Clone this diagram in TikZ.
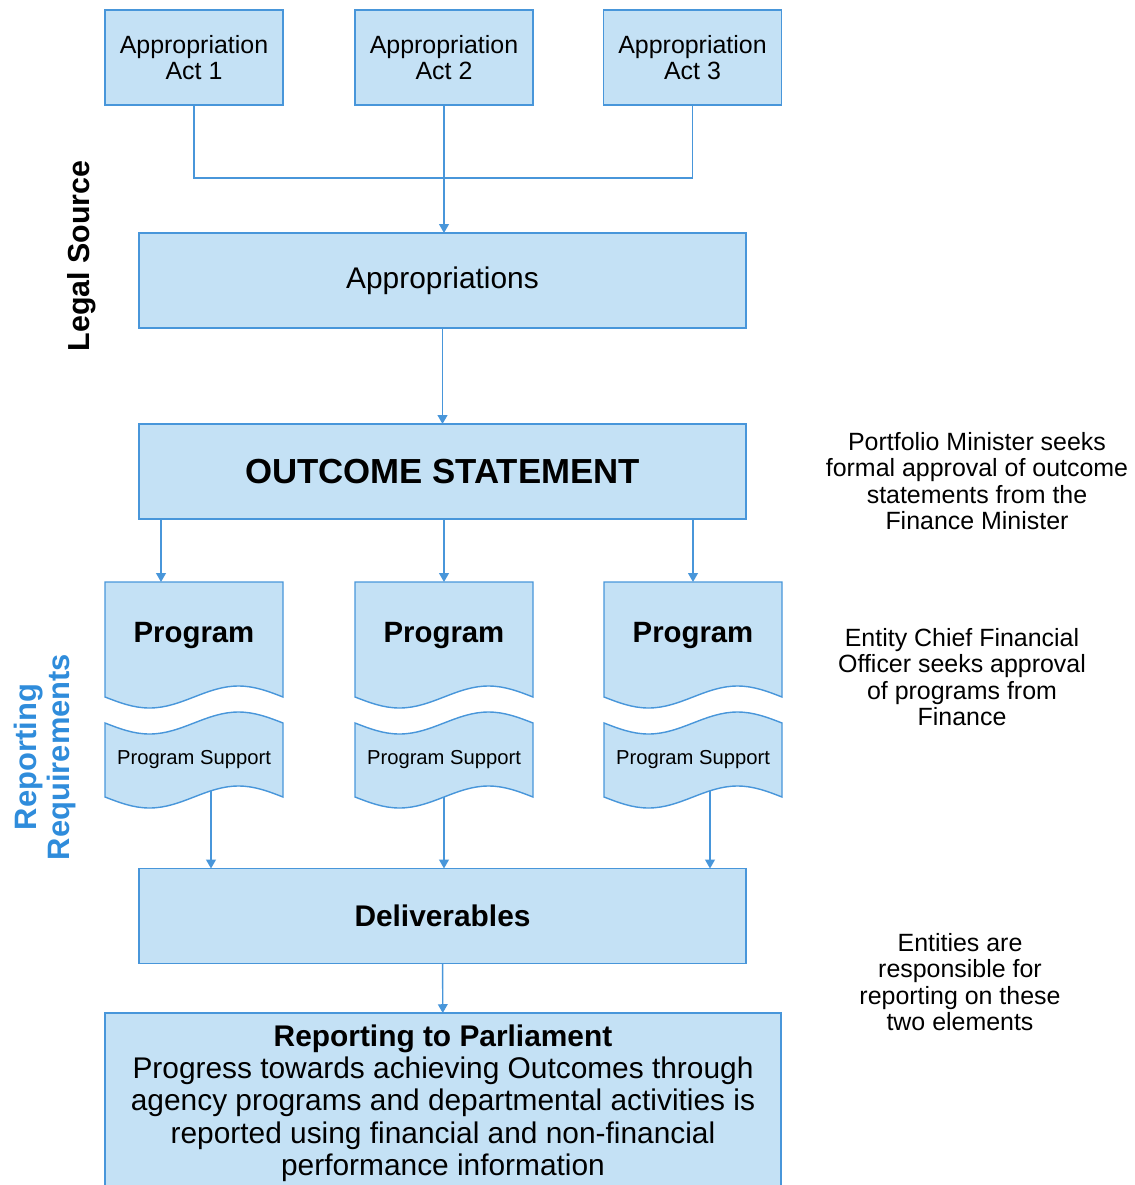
\documentclass[tikz,border=0pt]{standalone}
\usepackage{fontspec}
\setmainfont{Liberation Sans}
\usetikzlibrary{arrows.meta,positioning,calc}
\definecolor{boxFill}{HTML}{C4E1F5}
\definecolor{boxLine}{HTML}{4896DA}
\definecolor{reqColor}{HTML}{2F8CDB}
\tikzset{
	box/.style={draw=boxLine, fill=boxFill, line width=0.8pt, inner sep=0, outer sep=0, align=center},
	actbox/.style={box, minimum width=3.56cm, minimum height=1.9cm, font=\fontsize{14.2}{14.7}\selectfont},
	widebox/.style={box, minimum width=12.14cm, minimum height=1.9cm},
	side/.style={align=center, font=\fontsize{14.2}{15.1}\selectfont},
	flow/.style={draw=boxLine, line width=0.8pt},
	progbox/.pic={
		\filldraw[flow, fill=boxFill] (0,0) -- (178,0) -- (178,115) sin (133.5,104) cos (89,115)
			sin (44.5,126) cos (0,115) -- cycle;
		\filldraw[flow, fill=boxFill] (0,141) sin (44.5,152) cos (89,141) sin (133.5,130) cos (178,141)
			-- (178,215) sin (133.5,204) cos (89,215) sin (44.5,226) cos (0,215) -- cycle;
		\node[font=\fontsize{16.7}{18}\selectfont\bfseries] (-name) at (89,54) {Program};
		\node[font=\fontsize{11.5}{13}\selectfont] (-supp) at (89,178) {Program Support};
		\coordinate (-top) at (89,0);
		\coordinate (-topl) at (56,0);
		\coordinate (-bot) at (89,215);
		\coordinate (-botr) at (106,209);
	}
}

\begin{document}
\begin{tikzpicture}[x=0.02cm, y=-0.02cm, >={Triangle[width=5.5pt,length=5pt]}]
	\useasboundingbox (0,0) rectangle (1134,1185);

	\node[actbox] (a1) at (194,57.5) {Appropriation\\Act 1};
	\node[actbox] (a2) at (444,57.5) {Appropriation\\Act 2};
	\node[actbox] (a3) at (692.5,57.5) {Appropriation\\Act 3};
	\coordinate (bus) at (444,178);

	\node[widebox, font=\fontsize{17}{20}\selectfont] (appr) at (442.5,280.5) {Appropriations};
	\node[widebox, font=\fontsize{19.8}{22}\selectfont\bfseries] (outc) at (442.5,471.5) {OUTCOME STATEMENT};

	\pic (p1) at (105,582) {progbox};
	\pic (p2) at (355,582) {progbox};
	\pic (p3) at (604,582) {progbox};

	\node[widebox, font=\fontsize{17}{20}\selectfont\bfseries] (deliv) at (442.5,916) {Deliverables};
	\node[box, minimum width=13.52cm, minimum height=3.6cm, font=\fontsize{17}{18.4}\selectfont] (parl) at (443,1103)
		{\textbf{Reporting to Parliament}\\Progress towards achieving Outcomes through\\
		agency programs and departmental activities is\\reported using financial and non-financial\\
		performance information};

	% side labels
	\node[rotate=90, font=\fontsize{17.3}{20}\selectfont\bfseries] (legal) at (82,256) {Legal Source};
	\node[rotate=90, align=center, text=reqColor, font=\fontsize{17.6}{19.3}\selectfont\bfseries] (req) at (45,757)
		{Reporting\\Requirements};
	\node[side] (minister) at (977,481) {Portfolio Minister seeks\\formal approval of outcome\\statements from the\\Finance Minister};
	\node[side] (cfo) at (962,677) {Entity Chief Financial\\Officer seeks approval\\of programs from\\Finance};
	\node[side] (entities) at (960,982) {Entities are\\responsible for\\reporting on these\\two elements};

	% connectors
	\draw[flow] (a1.south) |- (a3.south |- bus) -- (a3.south);
	\draw[flow,->] (a2.south) -- (a2.south |- appr.north);
	\draw[flow,->] (appr) -- (outc);
	\draw[flow,->] (outc.south -| p1-topl) -- (p1-topl);
	\draw[flow,->] (outc.south -| p2-top) -- (p2-top);
	\draw[flow,->] (outc.south -| p3-top) -- (p3-top);
	\draw[flow,->] (p1-botr) -- (p1-botr |- deliv.north);
	\draw[flow,->] (p2-bot) -- (p2-bot |- deliv.north);
	\draw[flow,->] (p3-botr) -- (p3-botr |- deliv.north);
	\draw[flow,->] (deliv) -- (parl);
\end{tikzpicture}
\end{document}
